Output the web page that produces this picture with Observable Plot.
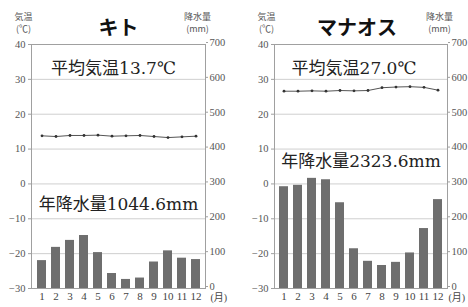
<!DOCTYPE html>
<html><head><meta charset="utf-8">
<script src="https://cdn.jsdelivr.net/npm/d3@7"></script>
<script src="https://cdn.jsdelivr.net/npm/@observablehq/plot@0.6"></script>
<style>
body{margin:0;background:#fff;width:468px;height:307px;overflow:hidden;position:relative;}
.c{position:absolute;top:0;}
#c1{left:0}#c2{left:234px}
svg{overflow:visible;display:block}
</style></head><body><div id="c1" class="c"></div><div id="c2" class="c"></div>
<script>
const months = [1,2,3,4,5,6,7,8,9,10,11,12];
const quitoTemp = [13.8,13.6,13.9,13.9,14.0,13.7,13.8,13.9,13.6,13.3,13.5,13.7];
const quitoPrecip = [80,118,138,152,103,43,26,30,76,108,87,83];
const manausTemp = [26.6,26.6,26.7,26.6,26.8,26.7,26.8,27.6,27.8,27.9,27.7,26.9];
const manausPrecip = [292,296,316,312,246,114,78,66,75,102,172,255];
const tempTicks = [-30,-20,-10,0,10,20,30,40];
const gridTicks = [-20,-10,0,10,20,30];

const SERIF = "'Liberation Serif','DejaVu Serif',serif";
const MIX = "'DejaVu Serif','Noto Sans CJK JP',serif";
const CJK = "'Noto Sans CJK JP',sans-serif";

function chart(o) {
  const rows = months.map((m, i) => ({month: m, temp: o.temp[i], p: o.precip[i] / 10 - 30}));
  return Plot.plot({
    width: 234, height: 307,
    marginTop: 44, marginBottom: 19, marginLeft: o.ml, marginRight: o.mr,
    style: {background: "#fff", fontFamily: SERIF},
    x: {type: "band", domain: months, paddingInner: 0.38, paddingOuter: 0.15, axis: null},
    y: {domain: [-30, 40], axis: null},
    marks: [
      Plot.ruleY(gridTicks, {stroke: "#cfcfcf", strokeWidth: 1}),
      Plot.barY(rows, {x: "month", y1: -30, y2: "p", fill: "#6e6e6e"}),
      Plot.frame({stroke: "#a0a0a0"}),
      Plot.axisY(tempTicks, {anchor: "left", label: null, tickSize: 3, tickPadding: 3, fontSize: 10.5, fontFamily: SERIF, color: "#555", stroke: "#a0a0a0"}),
      Plot.axisY(tempTicks, {anchor: "right", label: null, tickSize: 2, tickPadding: 2, fontSize: 10.5, fontFamily: SERIF, color: "#555", stroke: "#a0a0a0", dy: -2, tickFormat: d => String((d + 30) * 10)}),
      Plot.axisX(months, {anchor: "bottom", label: null, tickSize: 0, tickPadding: 4, fontSize: 11, fontFamily: SERIF, color: "#444"}),
      Plot.lineY(rows, {x: "month", y: "temp", stroke: "#555", strokeWidth: 1}),
      Plot.dot(rows, {x: "month", y: "temp", r: 1.4, fill: "#333", stroke: null}),
      Plot.text([o.avg], {y: o.avgY, dx: o.avgDx, fontSize: 17, fontFamily: MIX, fill: "#222"}),
      Plot.text([o.annual], {y: o.annualY, dx: o.annualDx, fontSize: 17, fontFamily: MIX, fill: "#222"}),
      Plot.text([o.title], {frameAnchor: "top", dy: -24, dx: o.titleDx, fontSize: 20, fontWeight: "bold", fontFamily: CJK, fill: "#111"}),
      Plot.text(["気温\n(℃)"], {frameAnchor: "top-left", dx: -8, dy: -33, fontSize: 9, lineHeight: 1.3, textAnchor: "middle", fontFamily: CJK, fill: "#555"}),
      Plot.text(["降水量\n(mm)"], {frameAnchor: "top-right", dx: -8, dy: -33, fontSize: 9, lineHeight: 1.3, textAnchor: "middle", fontFamily: CJK, fill: "#555"}),
      Plot.text(["(月)"], {frameAnchor: "bottom-right", dx: o.monDx, dy: 12, textAnchor: "start", fontSize: 10, fontFamily: "'Liberation Serif','Noto Sans CJK JP',serif", fill: "#444"})
    ]
  });
}

document.getElementById("c1").append(chart({
  title: "キト", temp: quitoTemp, precip: quitoPrecip, ml: 31, mr: 29,
  avg: "平均気温13.7℃", avgY: 33.2, avgDx: -5,
  annual: "年降水量1044.6mm", annualY: -5.8, annualDx: 0, titleDx: 0, monDx: 5
}));
document.getElementById("c2").append(chart({
  title: "マナオス", temp: manausTemp, precip: manausPrecip, ml: 40, mr: 21,
  avg: "平均気温27.0℃", avgY: 33.2, avgDx: -7,
  annual: "年降水量2323.6mm", annualY: 6.3, annualDx: 0, titleDx: -4, monDx: 1
}));
</script></body></html>
